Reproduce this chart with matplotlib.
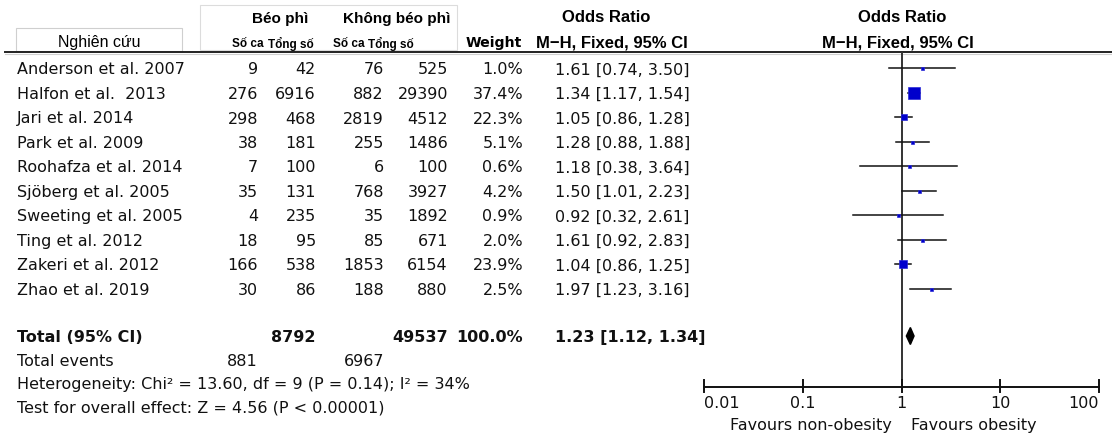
import numpy as np
import matplotlib
matplotlib.use('Agg')
import matplotlib.pyplot as plt
from matplotlib.patches import Rectangle

# study data
studies = ['Anderson et al. 2007', 'Halfon et al.  2013', 'Jari et al. 2014',
           'Park et al. 2009', 'Roohafza et al. 2014', 'Sjöberg et al. 2005',
           'Sweeting et al. 2005', 'Ting et al. 2012', 'Zakeri et al. 2012',
           'Zhao et al. 2019']
ev_obese = [9, 276, 298, 38, 7, 35, 4, 18, 166, 30]
n_obese = [42, 6916, 468, 181, 100, 131, 235, 95, 538, 86]
ev_non = [76, 882, 2819, 255, 6, 768, 35, 85, 1853, 188]
n_non = [525, 29390, 4512, 1486, 100, 3927, 1892, 671, 6154, 880]
weights = [1.0, 37.4, 22.3, 5.1, 0.6, 4.2, 0.9, 2.0, 23.9, 2.5]
odds = [1.61, 1.34, 1.05, 1.28, 1.18, 1.50, 0.92, 1.61, 1.04, 1.97]
ci_lo = [0.74, 1.17, 0.86, 0.88, 0.38, 1.01, 0.32, 0.92, 0.86, 1.23]
ci_hi = [3.50, 1.54, 1.28, 1.88, 3.64, 2.23, 2.61, 2.83, 1.25, 3.16]

total_n = [8792, 49537]
total_ev = [881, 6967]
total_weight = 100.0
total_or = [1.23, 1.12, 1.34]
ticks = [0.01, 0.1, 1, 10, 100]
tick_labels = ['0.01', '0.1', '1', '10', '100']

W, H = 1112, 435
fig = plt.figure(figsize=(W / 100, H / 100), dpi=100)
ax = fig.add_axes([0, 0, 1, 1])
ax.set_xlim(0, W)
ax.set_ylim(H, 0)
ax.axis('off')

body = dict(family=['DejaVu Sans'], fontsize=11.5, color='#111111')
narrow = ['Liberation Sans Narrow', 'Liberation Sans', 'DejaVu Sans']
arial = ['Liberation Sans', 'DejaVu Sans']

# header
ax.add_patch(Rectangle((16, 29), 166, 23, fill=False, ec='#cfcfcf', lw=0.8))
ax.add_patch(Rectangle((200, 6), 257, 45, fill=False, ec='#dcdcdc', lw=0.8))
ax.text(99, 42, 'Nghiên cứu', family=arial, fontsize=11.5, ha='center', va='center')
ax.text(280, 19, 'Béo phì', family=arial, fontsize=11, weight='bold', ha='center', va='center')
ax.text(397, 19, 'Không béo phì', family=arial, fontsize=11, weight='bold', ha='center', va='center')
for x, s in zip([248, 291, 349, 391], ['Số ca', 'Tổng số', 'Số ca', 'Tổng số']):
    ax.text(x, 44, s, family=arial, fontsize=8.5, weight='bold', ha='center', va='center')
ax.text(522, 43, 'Weight', family=['DejaVu Sans'], fontsize=10.2, weight='bold', ha='right', va='center')
ax.text(606, 18, 'Odds Ratio', family=narrow, fontsize=12, weight='bold', ha='center', va='center')
ax.text(612, 43, 'M−H, Fixed, 95% CI', family=narrow, fontsize=12, weight='bold', ha='center', va='center')
ax.text(902, 18, 'Odds Ratio', family=narrow, fontsize=12, weight='bold', ha='center', va='center')
ax.text(898, 43, 'M−H, Fixed, 95% CI', family=narrow, fontsize=12, weight='bold', ha='center', va='center')
ax.plot([5, W], [53, 53], color='#222222', lw=1.4)
ax.plot([5, W], [55, 55], color='#d0d0d0', lw=0.8)

row_y = [69 + 24.5 * i for i in range(len(studies))]
for i, y in enumerate(row_y):
    ty = y + 1
    ax.text(17, ty, studies[i], ha='left', va='center', **body)
    ax.text(258, ty, str(ev_obese[i]), ha='right', va='center', **body)
    ax.text(316, ty, str(n_obese[i]), ha='right', va='center', **body)
    ax.text(384, ty, str(ev_non[i]), ha='right', va='center', **body)
    ax.text(448, ty, str(n_non[i]), ha='right', va='center', **body)
    ax.text(523, ty, '%.1f%%' % weights[i], ha='right', va='center', **body)
    ax.text(555, ty, '%.2f [%.2f, %.2f]' % (odds[i], ci_lo[i], ci_hi[i]),
            ha='left', va='center', **body)

ty = 338
ax.text(17, ty, 'Total (95% CI)', ha='left', va='center', weight='bold', **body)
ax.text(316, ty, str(total_n[0]), ha='right', va='center', weight='bold', **body)
ax.text(448, ty, str(total_n[1]), ha='right', va='center', weight='bold', **body)
ax.text(523, ty, '%.1f%%' % total_weight, ha='right', va='center', weight='bold', **body)
ax.text(555, ty, '%.2f [%.2f, %.2f]' % tuple(total_or), ha='left', va='center', weight='bold', **body)
ax.text(17, 362, 'Total events', ha='left', va='center', **body)
ax.text(258, 362, str(total_ev[0]), ha='right', va='center', **body)
ax.text(384, 362, str(total_ev[1]), ha='right', va='center', **body)
ax.text(17, 385, 'Heterogeneity: Chi² = 13.60, df = 9 (P = 0.14); I² = 34%', ha='left', va='center', **body)
ax.text(17, 408, 'Test for overall effect: Z = 4.56 (P < 0.00001)', ha='left', va='center', **body)

# forest panel on log scale
x0, x1 = 704, 1099
fx = fig.add_axes([x0 / W, 0, (x1 - x0) / W, 1])
fx.set_xscale('log')
fx.set_xlim(0.01, 100)
fx.set_ylim(H, 0)
fx.axis('off')
fx.patch.set_alpha(0)

axis_y = 388
fx.plot([1, 1], [54, axis_y], color='#333333', lw=1.4, clip_on=False)
fx.plot([0.01, 100], [axis_y, axis_y], color='#111111', lw=1.4, clip_on=False)
for t, lab in zip(ticks, tick_labels):
    fx.plot([t, t], [axis_y - 7, axis_y + 5], color='#111111', lw=1.4, clip_on=False)
    ha = 'left' if t == ticks[0] else ('right' if t == ticks[-1] else 'center')
    fx.text(t, 404, lab, ha=ha, va='center', **body)
fx.text(0.8, 426, 'Favours non-obesity', ha='right', va='center', **body)
fx.text(1.25, 426, 'Favours obesity', ha='left', va='center', **body)

for i, y in enumerate(row_y):
    fx.plot([ci_lo[i], ci_hi[i]], [y, y], color='#111111', lw=1.1, zorder=2)
    side = max(3.0, 0.3 * weights[i]) * 0.72
    fx.plot(odds[i], y, marker='s', ms=side, color='#0000cc', mec='#2b2bd6', mew=0.5, zorder=3)

dy = 8.5
fx.fill([total_or[1], total_or[0], total_or[2], total_or[0]],
        [337, 337 - dy, 337, 337 + dy], color='black', zorder=3)

fig.savefig('out.png', dpi=100)
